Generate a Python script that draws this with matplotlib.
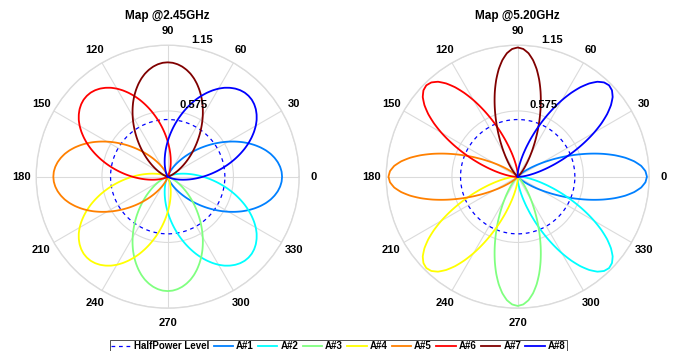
import numpy as np
import matplotlib
matplotlib.use("Agg")
import matplotlib.pyplot as plt

plt.rcParams['font.family'] = ['Liberation Sans', 'DejaVu Sans']

# ---- data ----
titles = ["Map @2.45GHz", "Map @5.20GHz"]
beam_names = ["A#1", "A#2", "A#3", "A#4", "A#5", "A#6", "A#7", "A#8"]
beam_dirs_deg = [0, 315, 270, 225, 180, 135, 90, 45]
beam_colors = [(0, 0.5, 1), (0, 1, 1), (0.5, 1, 0.5), (1, 1, 0),
               (1, 0.5, 0), (1, 0, 0), (0.5, 0, 0), (0, 0, 1)]
half_power_level = 0.5
r_max = 1.15
r_ticks = [0.575, 1.15]
# beam pattern magnitude vs offset from beam direction (deg)
offset_deg = [0, 2.5, 5, 7.5, 10, 12.5, 15, 17.5, 20, 22.5, 25, 27.5, 30, 32.5, 35,
              37.5, 40, 42.5, 45, 47.5, 50, 52.5, 55, 57.5, 60, 62.5, 65, 67.5, 70,
              72.5, 75, 77.5, 80, 82.5, 85, 87.5, 90]
pattern_245 = [1.0, 0.997, 0.987, 0.971, 0.949, 0.922, 0.889, 0.851, 0.809, 0.764,
               0.716, 0.665, 0.613, 0.560, 0.507, 0.455, 0.404, 0.355, 0.308, 0.264,
               0.223, 0.185, 0.151, 0.121, 0.095, 0.072, 0.054, 0.038, 0.026, 0.017,
               0.010, 0.0055, 0.0026, 0.0010, 0.0003, 0.0, 0.0]
pattern_520 = [1.13, 1.118, 1.084, 1.028, 0.955, 0.868, 0.772, 0.671, 0.570, 0.473,
               0.383, 0.302, 0.232, 0.174, 0.126, 0.089, 0.060, 0.040, 0.025, 0.015,
               0.0087, 0.0048, 0.0025, 0.0012, 0.0006, 0.0, 0.0, 0.0, 0.0, 0.0,
               0.0, 0.0, 0.0, 0.0, 0.0, 0.0, 0.0]
patterns = [pattern_245, pattern_520]

W, H = 677, 351
fig = plt.figure(figsize=(W / 100, H / 100), dpi=100)

centers = [(167.7, 176.7), (517.7, 176.7)]
R = 131.5
grid_col = (0.86, 0.86, 0.86)

handles = None
for k, (cx, cy) in enumerate(centers):
    ax = fig.add_axes([(cx - R) / W, (H - cy - R) / H, 2 * R / W, 2 * R / H],
                      projection='polar')
    ax.set_rlim(0, r_max)
    ax.set_thetagrids(range(0, 360, 30), labels=[str(a) for a in range(0, 360, 30)],
                      fontsize=8, fontweight='bold')
    ax.set_rgrids(r_ticks, labels=['', ''])
    ax.grid(True, color=grid_col, lw=0.8)
    ax.spines['polar'].set_color(grid_col)
    ax.spines['polar'].set_linewidth(1.0)
    ax.tick_params(axis='x', pad=0)
    ax.set_facecolor('white')

    # radial tick labels
    for rv in r_ticks:
        ax.text(np.deg2rad(80), rv + 0.02, f"{rv:g}", fontsize=8, fontweight='bold',
                ha='left', va='bottom')

    th_c = np.linspace(0, 2 * np.pi, 361)
    hp, = ax.plot(th_c, np.full_like(th_c, half_power_level), ls=(0, (3, 3)),
                  color=(0, 0, 1), lw=0.9, label='HalfPower Level')
    hs = [hp]
    off = np.array(offset_deg, dtype=float)
    pat = np.array(patterns[k])
    full_off = np.concatenate([-off[::-1], off[1:]])
    full_pat = np.concatenate([pat[::-1], pat[1:]])
    for name, d, c in zip(beam_names, beam_dirs_deg, beam_colors):
        h, = ax.plot(np.deg2rad(d + full_off), full_pat, color=c, lw=1.3, label=name)
        h.get_path()._interpolation_steps = 8
        hs.append(h)
    handles = hs
    fig.text(cx / W, 1 - 16 / H, titles[k], fontsize=8.5, fontweight='bold',
             ha='center', va='center')

leg = fig.legend(handles=handles, loc='upper center', bbox_to_anchor=(0.5, (H - 340) / H),
                 ncol=9, prop={'weight': 'bold', 'size': 7},
                 frameon=True, fancybox=False, handlelength=2.0, columnspacing=0.45,
                 handletextpad=0.3, borderpad=0.1, borderaxespad=0)
leg.get_frame().set_edgecolor('black')
leg.get_frame().set_linewidth(0.6)

fig.savefig("out.png", dpi=100)
